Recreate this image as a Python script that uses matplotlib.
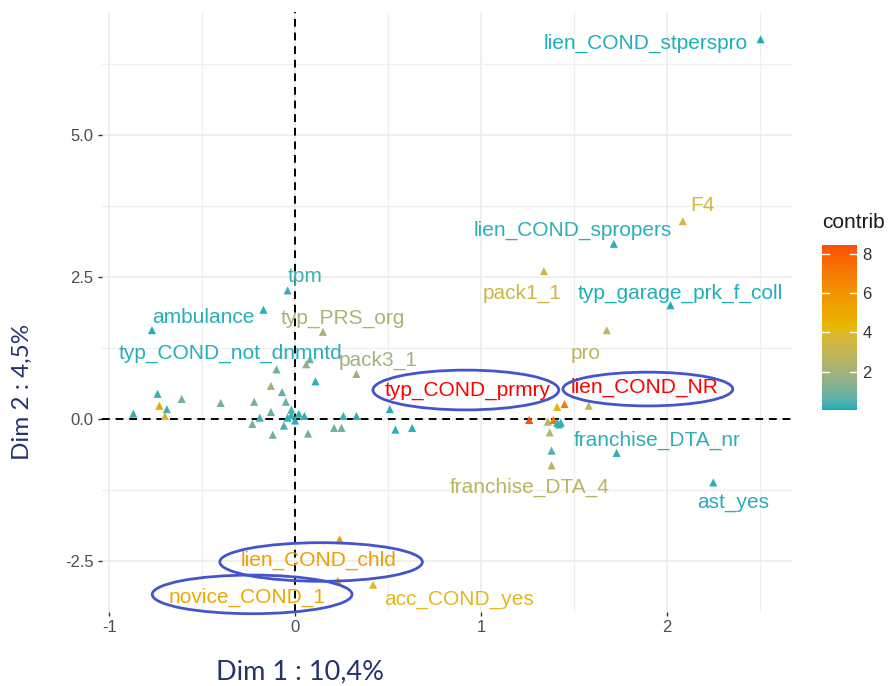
import numpy as np
import matplotlib
matplotlib.use("Agg")
import matplotlib.pyplot as plt
from matplotlib.colors import ListedColormap, Normalize, to_rgb
from matplotlib.patches import Ellipse

# ---------------- data ----------------
label_names = ["lien_COND_stperspro", "F4", "lien_COND_spropers", "pack1_1",
               "typ_garage_prk_f_coll", "pro", "tpm", "ambulance", "typ_PRS_org",
               "typ_COND_not_dnmntd", "pack3_1", "typ_COND_prmry", "lien_COND_NR",
               "franchise_DTA_nr", "franchise_DTA_4", "ast_yes", "lien_COND_chld",
               "novice_COND_1", "acc_COND_yes"]
label_dim1 = [2.505, 2.086, 1.715, 1.339, 2.02, 1.677, -0.04, -0.17, 0.15,
              -0.77, 0.33, 1.26, 1.45, 1.73, 1.38, 2.25, 0.24, 0.23, 0.42]
label_dim2 = [6.68, 3.48, 3.08, 2.60, 2.00, 1.56, 2.26, 1.92, 1.53,
              1.56, 0.79, -0.02, 0.26, -0.60, -0.82, -1.12, -2.12, -2.85, -2.92]
label_contrib = [0.12, 3.6, 0.2, 3.3, 0.12, 2.8, 0.3, 0.15, 2.2,
                 0.15, 1.9, 8.45, 7.0, 0.2, 2.7, 0.15, 5.5, 5.0, 4.0]

other_dim1 = [-0.74, -0.73, -0.69, -0.70, -0.87, -0.61, -0.40, -0.22, -0.13, -0.07,
              -0.05, -0.13, -0.19, -0.23, -0.12, -0.06, -0.02, -0.04, 0.00, -0.02,
              0.02, 0.05, 0.07, -0.10, 0.08, 0.06, 0.11, 0.26, 0.33, 0.21,
              0.25, 0.51, 0.54, 0.63, 1.41, 1.58, 1.36, 1.39, 1.41, 1.43,
              1.42, 1.37, 1.38]
other_dim2 = [0.44, 0.23, 0.17, 0.05, 0.09, 0.35, 0.28, 0.30, 0.58, 0.47,
              0.30, 0.12, 0.02, -0.09, -0.28, -0.12, 0.16, 0.02, -0.03, 0.07,
              0.09, 0.05, -0.26, 0.87, 1.05, 0.96, 0.66, 0.05, 0.05, -0.16,
              -0.16, 0.17, -0.19, -0.16, 0.21, 0.23, -0.05, -0.02, -0.07, -0.07,
              -0.10, -0.24, -0.56]
other_contrib = [0.25, 5.0, 0.35, 3.8, 0.25, 1.0, 1.0, 1.0, 1.8, 0.7,
                 0.8, 0.8, 0.3, 1.0, 1.0, 0.4, 0.4, 0.2, 0.2, 0.3,
                 0.3, 0.2, 1.0, 0.8, 1.0, 1.5, 0.2, 0.3, 0.2, 0.9,
                 0.9, 0.15, 0.2, 0.2, 4.3, 3.0, 2.5, 7.0, 0.3, 0.2,
                 0.3, 2.6, 0.6]
min_contrib = 0.05

highlighted = ["typ_COND_prmry", "lien_COND_NR"]
circled = ["typ_COND_prmry", "lien_COND_NR", "lien_COND_chld", "novice_COND_1"]

x_ticks = [-1, 0, 1, 2]
y_ticks = [-2.5, 0.0, 2.5, 5.0]
cbar_ticks = [2, 4, 6, 8]
gradient_cols = ["#00AFBB", "#E7B800", "#FC4E07"]
x_title = "Dim 1 : 10,4%"
y_title = "Dim 2 : 4,5%"
legend_title = "contrib"

# ---------------- layout (label placement as repelled in the original) ----------------
label_text_pos = {
    "lien_COND_stperspro": (1.887, 6.61), "F4": (2.19, 3.76),
    "lien_COND_spropers": (1.495, 3.32), "pack1_1": (1.22, 2.20),
    "typ_garage_prk_f_coll": (2.075, 2.20), "pro": (1.565, 1.15),
    "tpm": (0.054, 2.50), "ambulance": (-0.495, 1.78),
    "typ_PRS_org": (0.258, 1.77), "typ_COND_not_dnmntd": (-0.35, 1.15),
    "pack3_1": (0.446, 1.03), "typ_COND_prmry": (0.93, 0.49),
    "lien_COND_NR": (1.88, 0.56), "franchise_DTA_nr": (1.946, -0.385),
    "franchise_DTA_4": (1.263, -1.206), "ast_yes": (2.355, -1.47),
    "lien_COND_chld": (0.124, -2.50), "novice_COND_1": (-0.258, -3.15),
    "acc_COND_yes": (0.882, -3.18),
}
ellipse_geom = {
    "typ_COND_prmry": ((0.919, 0.507), 1.0, 0.70),
    "lien_COND_NR": ((1.898, 0.524), 0.914, 0.594),
    "lien_COND_chld": ((0.14, -2.52), 1.09, 0.68),
    "novice_COND_1": ((-0.231, -3.09), 1.075, 0.68),
}

plt.rcParams["font.family"] = ["Liberation Sans", "DejaVu Sans"]


# ---- colour ramp interpolated in CIE Lab (as ggplot2 does) ----
def _srgb_to_lab(rgb):
    rgb = np.asarray(rgb, float)
    lin = np.where(rgb <= 0.04045, rgb / 12.92, ((rgb + 0.055) / 1.055) ** 2.4)
    M = np.array([[0.4124564, 0.3575761, 0.1804375],
                  [0.2126729, 0.7151522, 0.0721750],
                  [0.0193339, 0.1191920, 0.9503041]])
    xyz = M @ lin
    wp = np.array([0.95047, 1.0, 1.08883])
    t = xyz / wp
    f = np.where(t > (6 / 29) ** 3, np.cbrt(t), t / (3 * (6 / 29) ** 2) + 4 / 29)
    return np.array([116 * f[1] - 16, 500 * (f[0] - f[1]), 200 * (f[1] - f[2])])


def _lab_to_srgb(lab):
    L, a, b = lab
    fy = (L + 16) / 116
    fx = fy + a / 500
    fz = fy - b / 200
    f = np.array([fx, fy, fz])
    t = np.where(f > 6 / 29, f ** 3, 3 * (6 / 29) ** 2 * (f - 4 / 29))
    xyz = t * np.array([0.95047, 1.0, 1.08883])
    Minv = np.array([[3.2404542, -1.5371385, -0.4985314],
                     [-0.9692660, 1.8760108, 0.0415560],
                     [0.0556434, -0.2040259, 1.0572252]])
    lin = Minv @ xyz
    lin = np.clip(lin, 0, 1)
    rgb = np.where(lin <= 0.0031308, 12.92 * lin, 1.055 * lin ** (1 / 2.4) - 0.055)
    return np.clip(rgb, 0, 1)


labs = [_srgb_to_lab(to_rgb(c)) for c in gradient_cols]
ramp = []
for v in np.linspace(0, 1, 256):
    seg = min(int(v * (len(labs) - 1)), len(labs) - 2)
    u = v * (len(labs) - 1) - seg
    ramp.append(_lab_to_srgb((1 - u) * labs[seg] + u * labs[seg + 1]))
cmap = ListedColormap(ramp)

all_contrib = label_contrib + other_contrib + [min_contrib]
norm = Normalize(vmin=min(all_contrib), vmax=max(all_contrib))

fig = plt.figure(figsize=(8.88, 6.86), dpi=100)
ax = fig.add_axes([102 / 888, 74 / 686, 690 / 888, 600 / 686])

# grid
for s in ax.spines.values():
    s.set_visible(False)
ax.set_xticks(x_ticks)
ax.set_yticks(y_ticks)
ax.set_xticks([t + 0.5 for t in x_ticks], minor=True)
ax.set_yticks([t + 1.25 for t in y_ticks], minor=True)

all_x = np.array(label_dim1 + other_dim1)
all_y = np.array(label_dim2 + other_dim2)
xr = all_x.max() - all_x.min()
yr = all_y.max() - all_y.min()
ax.set_xlim(all_x.min() - 0.05 * xr, all_x.max() + 0.05 * xr)
ax.set_ylim(all_y.min() - 0.05 * yr, all_y.max() + 0.05 * yr)

ax.grid(True, which="major", color="#EBEBEB", lw=1.1)
ax.grid(True, which="minor", color="#EFEFEF", lw=0.9)
ax.set_axisbelow(True)
ax.tick_params(which="minor", length=0)
ax.tick_params(which="major", length=3, width=1, color="#333333",
               labelcolor="#4D4D4D", labelsize=12, pad=3)
ax.set_xticklabels([str(t) for t in x_ticks])
ax.set_yticklabels([f"{t:.1f}" for t in y_ticks])

ax.axhline(0, color="black", lw=1.4, ls=(0, (4, 3)), zorder=1)
ax.axvline(0, color="black", lw=1.4, ls=(0, (4, 3)), zorder=1)

ax.scatter(other_dim1, other_dim2, c=other_contrib, cmap=cmap, norm=norm,
           marker="^", s=34, linewidths=0, zorder=3)
ax.scatter(label_dim1, label_dim2, c=label_contrib, cmap=cmap, norm=norm,
           marker="^", s=34, linewidths=0, zorder=3)

for name, c in zip(label_names, label_contrib):
    tx, ty = label_text_pos[name]
    col = "#FF0000" if name in highlighted else cmap(norm(c))
    ax.text(tx, ty, name, color=col, fontsize=15, ha="center", va="center", zorder=4)

for name in circled:
    (cx, cy), w, h = ellipse_geom[name]
    ax.add_patch(Ellipse((cx, cy), w, h, fill=False, ec="#4455CC", lw=2.0,
                         zorder=5, clip_on=False))

# axis titles (placed as in the original)
fig.text(300 / 888, 1 - 672 / 686, x_title, fontsize=19.5, color="#25336B",
         family=["Lato", "DejaVu Sans"], ha="center", va="center")
fig.text(22 / 888, 1 - 392 / 686, y_title, fontsize=17.5, color="#25336B",
         family=["Lato", "DejaVu Sans"], ha="center", va="center", rotation=90)

# colour bar
cax = fig.add_axes([822 / 888, 1 - 410 / 686, 35 / 888, 165 / 686])
grad = np.linspace(norm.vmin, norm.vmax, 256).reshape(-1, 1)
cax.imshow(grad, aspect="auto", cmap=cmap, norm=norm, origin="lower",
           extent=[0, 1, norm.vmin, norm.vmax])
for s in cax.spines.values():
    s.set_visible(False)
cax.set_xticks([])
cax.yaxis.tick_right()
cax.set_yticks(cbar_ticks)
cax.tick_params(axis="y", length=0, labelsize=12, labelcolor="#333333", pad=4)
for t in cbar_ticks:
    cax.plot([0, 0.2], [t, t], color="white", lw=1)
    cax.plot([0.8, 1], [t, t], color="white", lw=1)
cax.set_xlim(0, 1)
cax.set_ylim(norm.vmin, norm.vmax)
fig.text(822 / 888, 1 - 222 / 686, legend_title, fontsize=15, color="#1A1A1A",
         ha="left", va="center")

fig.savefig("out.png", dpi=100, facecolor="white")
